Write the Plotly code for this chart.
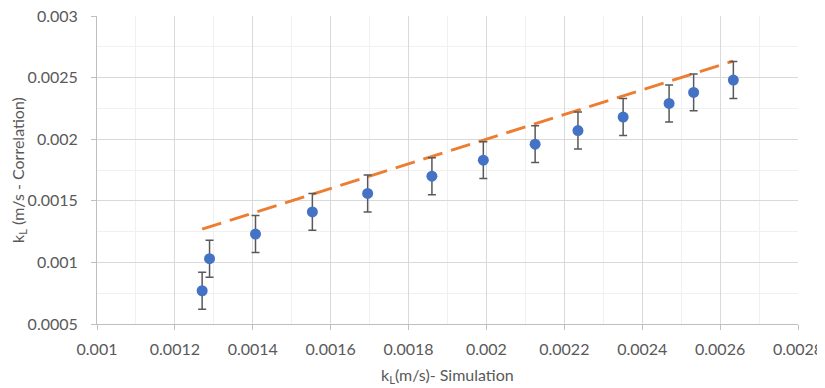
import plotly.graph_objects as go

# Data
kl_simulation = [0.00127, 0.001289, 0.001407, 0.001553, 0.001695, 0.00186, 0.001992,
                 0.002125, 0.002235, 0.002351, 0.002469, 0.002532, 0.002634]
kl_correlation = [0.00077, 0.00103, 0.00123, 0.00141, 0.00156, 0.00170, 0.00183,
                  0.00196, 0.00207, 0.00218, 0.00229, 0.00238, 0.00248]
error_bar = 0.00015
parity_x = [0.00127, 0.002634]
parity_y = [0.00127, 0.002634]
x_title = "k<sub>L</sub>(m/s)- Simulation"
y_title = "k<sub>L</sub> (m/s - Correlation)"

font_family = "Lato, 'Open Sans', sans-serif"
text_color = "#595959"

fig = go.Figure()

fig.add_trace(go.Scatter(
    x=parity_x, y=parity_y, mode="lines",
    line=dict(color="#ED7D31", width=3, dash="20px,9px"),
    showlegend=False, hoverinfo="skip",
))

fig.add_trace(go.Scatter(
    x=kl_simulation, y=kl_correlation, mode="markers",
    marker=dict(color="#4472C4", size=11),
    error_y=dict(type="constant", value=error_bar, color="#595959",
                 thickness=1.5, width=4),
    showlegend=False,
))

axis_common = dict(
    showline=True, linecolor="#bfbfbf", linewidth=1,
    ticks="outside", ticklen=5, tickcolor="#bfbfbf",
    gridcolor="#d9d9d9", gridwidth=1,
    zeroline=False, automargin=False,
    ticklabeloverflow="allow",
    tickfont=dict(family=font_family, size=16, color=text_color),
    tickformat=".4~f",
)

fig.update_xaxes(
    range=[0.001, 0.0028], dtick=0.0002, tick0=0.001,
    ticklabelstandoff=6,
    minor=dict(dtick=0.0001, showgrid=True, gridcolor="#f0f0f0", gridwidth=1, ticks=""),
    **axis_common,
)
fig.update_yaxes(
    range=[0.0005, 0.003], dtick=0.0005, tick0=0.0005,
    ticklabelstandoff=10,
    minor=dict(dtick=0.00025, showgrid=True, gridcolor="#f0f0f0", gridwidth=1, ticks=""),
    **axis_common,
)

title_font = dict(family=font_family, size=16, color=text_color)
fig.add_annotation(text=y_title, xref="paper", yref="paper", x=0, y=0.5,
                   xanchor="center", yanchor="middle", xshift=-79, textangle=-90,
                   showarrow=False, font=title_font)
fig.add_annotation(text=x_title, xref="paper", yref="paper", x=0.5, y=0,
                   xanchor="center", yanchor="middle", yshift=-51,
                   showarrow=False, font=title_font)

fig.update_layout(
    width=817, height=380,
    margin=dict(l=89, r=27, t=8, b=64),
    paper_bgcolor="white", plot_bgcolor="white",
    font=dict(family=font_family, color=text_color),
)

fig.write_html("out.html")
